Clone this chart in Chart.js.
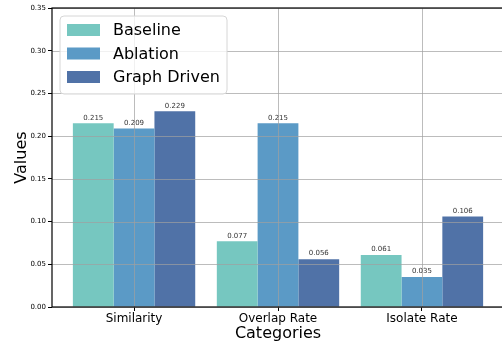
<!DOCTYPE html>
<html>
<head>
<meta charset="utf-8">
<script src="https://cdn.jsdelivr.net/npm/chart.js@4/dist/chart.umd.min.js"></script>
<style>
  html, body { margin: 0; padding: 0; background: #fff; }
  #wrap { width: 502px; height: 344px; overflow: hidden; }
</style>
</head>
<body>
<div id="wrap"><canvas id="chart" width="510" height="344"></canvas></div>
<script>
// Chart data
const categories = ["Similarity", "Overlap Rate", "Isolate Rate"];
const seriesNames = ["Baseline", "Ablation", "Graph Driven"];
const baseline = [0.215, 0.077, 0.061];
const ablation = [0.209, 0.215, 0.035];
const graphDriven = [0.229, 0.056, 0.106];
const seriesColors = ["#76c7c0", "#5b9ac6", "#5072a7"];
const yMax = 0.35;
const yStep = 0.05;

const FONT = "'DejaVu Sans', sans-serif";

// grid on top of the bars, frame, value labels and legend
const overlayPlugin = {
  id: "overlay",
  afterDatasetsDraw(chart) {
    const ctx = chart.ctx;
    const area = chart.chartArea;
    const xs = chart.scales.x;
    const ys = chart.scales.y;
    ctx.save();
    ctx.strokeStyle = "rgba(160,160,160,0.7)";
    ctx.lineWidth = 1;
    ys.ticks.forEach((t) => {
      const y = Math.round(ys.getPixelForValue(t.value)) + 0.5;
      ctx.beginPath();
      ctx.moveTo(area.left, y);
      ctx.lineTo(area.right, y);
      ctx.stroke();
    });
    xs.ticks.forEach((t) => {
      const x = Math.round(xs.getPixelForValue(t.value)) + 0.5;
      ctx.beginPath();
      ctx.moveTo(x, area.top);
      ctx.lineTo(x, area.bottom);
      ctx.stroke();
    });

    // value labels
    ctx.fillStyle = "#333";
    ctx.font = "7px " + FONT;
    ctx.textAlign = "center";
    ctx.textBaseline = "bottom";
    chart.data.datasets.forEach((ds, i) => {
      chart.getDatasetMeta(i).data.forEach((bar, j) => {
        ctx.fillText(ds.data[j].y.toFixed(3), bar.x, bar.y - 2);
      });
    });

    // frame
    ctx.strokeStyle = "#000";
    ctx.lineWidth = 1.2;
    ctx.strokeRect(area.left, area.top, area.right - area.left, area.bottom - area.top);

    // legend
    const lx = area.left + 8, ly = area.top + 8, lw = 167, lh = 78;
    ctx.beginPath();
    ctx.roundRect(lx, ly, lw, lh, 4);
    ctx.fillStyle = "rgba(255,255,255,0.8)";
    ctx.fill();
    ctx.strokeStyle = "#d6d6d6";
    ctx.lineWidth = 1;
    ctx.stroke();
    ctx.font = "16px " + FONT;
    ctx.textAlign = "left";
    ctx.textBaseline = "middle";
    chart.data.datasets.forEach((ds, i) => {
      const cy = ly + 14 + i * 23.5;
      ctx.fillStyle = ds.backgroundColor;
      ctx.fillRect(lx + 7, cy - 6, 33, 12);
      ctx.fillStyle = "#000";
      ctx.fillText(ds.label, lx + 53, cy + 1);
    });
    ctx.restore();
  },
};

const seriesValues = [baseline, ablation, graphDriven];

new Chart(document.getElementById("chart"), {
  type: "bar",
  data: {
    datasets: seriesNames.map((name, i) => ({
      label: name,
      data: seriesValues[i].map((v, j) => ({ x: j, y: v })),
      backgroundColor: seriesColors[i],
      borderWidth: 0,
      categoryPercentage: 0.85,
      barPercentage: 1,
    })),
  },
  options: {
    responsive: false,
    animation: false,
    layout: { padding: { top: 8, right: 6, left: 0, bottom: 0 } },
    plugins: { legend: { display: false }, tooltip: { enabled: false } },
    scales: {
      x: {
        type: "linear",
        min: -0.57,
        max: 2.57,
        offset: false,
        grid: { offset: false, color: "transparent", drawOnChartArea: false, tickColor: "#000", tickLength: 4 },
        border: { display: false },
        ticks: {
          stepSize: 1,
          includeBounds: false,
          autoSkip: false,
          maxRotation: 0,
          padding: 1,
          color: "#000",
          font: { family: FONT, size: 12 },
          callback: (v) => categories[v] || "",
        },
        title: {
          display: true,
          text: "Categories",
          color: "#000",
          font: { family: FONT, size: 16 },
          padding: { top: 0, bottom: 1 },
        },
        afterFit: (scale) => { scale.height = 37; },
      },
      y: {
        min: 0,
        max: yMax,
        grid: { color: "transparent", drawOnChartArea: false, tickColor: "#000", tickLength: 4 },
        border: { display: false },
        ticks: {
          stepSize: yStep,
          padding: 2,
          color: "#000",
          font: { family: FONT, size: 7 },
          callback: (v) => v.toFixed(2),
        },
        title: {
          display: true,
          text: "Values",
          color: "#000",
          font: { family: FONT, size: 16 },
          padding: { top: 12, bottom: 0 },
        },
        afterFit: (scale) => { scale.width = 52; },
      },
    },
  },
  plugins: [overlayPlugin],
});
</script>
</body>
</html>
